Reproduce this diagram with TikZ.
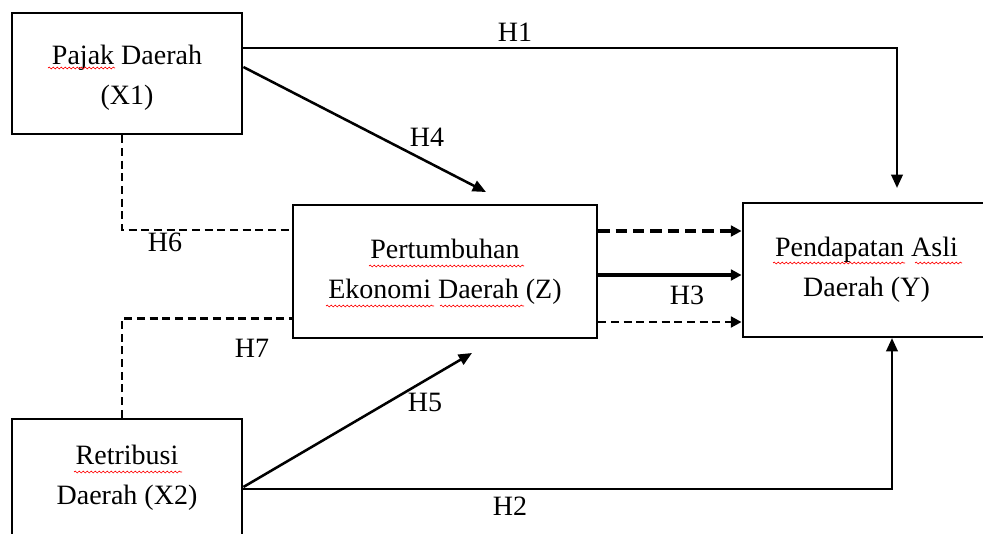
\documentclass[tikz,border=0pt]{standalone}
\usepackage{fontspec}
\setmainfont{Liberation Serif}
\usetikzlibrary{arrows.meta,decorations.pathmorphing,calc}
\begin{document}
\begin{tikzpicture}[x=0.75pt,y=-0.75pt,
  box/.style={draw,line width=2.1pt,inner sep=0pt,align=center,font=\fontsize{21}{30}\selectfont},
  lbl/.style={inner sep=0pt,font=\fontsize{21}{25}\selectfont},
  conn/.style={line width=1.9pt,-{Triangle[length=10pt,width=8.5pt]}},
  conntip/.style={-{Triangle[length=8pt,width=8pt]}},
  mdash/.style={line width=1.6pt,dash pattern=on 6pt off 3.5pt},
  spell/.style={red,line width=0.5pt,decorate,decoration={snake,segment length=3pt,amplitude=0.7pt}}]
\useasboundingbox (0,0) rectangle (983,533);
% boxes
\node[box,minimum width=172.5pt,minimum height=90.75pt] (X1) at (127,73.5) {\rule{0pt}{20.5pt}Pajak Daerah\\(X1)};
\node[box,minimum width=228pt,minimum height=99.75pt] (Z) at (445,271.5) {Pertumbuhan\\Ekonomi Daerah (Z)};
\node[box,minimum width=185.25pt,minimum height=100.5pt] (Y) at (866.5,270) {Pendapatan Asli\\Daerah (Y)};
\node[box,minimum width=172.5pt,minimum height=88.5pt] (X2) at (127,478) {Retribusi\\Daerah (X2)};
% free ends
\coordinate (h1end) at (897,188);
\coordinate (h4end) at (486,192);
\coordinate (h5end) at (472,353);
\coordinate (h2end) at (892,338);
% H1
\draw[conn] ($(X1.east)+(0,-25.5)$) -| (h1end);
% H4
\draw[conn] ($(X1.east)+(0,-6.5)$) -- (h4end);
% H5
\draw[conn] ($(X2.east)+(0,9)$) -- (h5end);
% H2
\draw[conn] ($(X2.east)+(0,11)$) -| (h2end);
% H6, H7 dashed
\draw[mdash] ($(X1.south)+(-5,0)$) |- ($(Z.west)+(0,-41.5)$);
\draw[mdash] ($(X2.north)+(-5,0)$) |- ($(Z.west)+(0,47)$);
% Z -> Y
\coordinate (a1) at ($(Z.east)+(0,-40.5)$);
\coordinate (a2) at ($(Z.east)+(0,3.5)$);
\coordinate (a3) at ($(Z.east)+(0,50.5)$);
\draw[line width=2.7pt,dash pattern=on 8.5pt off 4.5pt,conntip] (a1) -- (a1 -| Y.west);
\draw[line width=2.7pt,conntip] (a2) -- (a2 -| Y.west);
\draw[line width=2pt,dash pattern=on 6pt off 3.5pt,conntip] (a3) -- (a3 -| Y.west);
% labels
\node[lbl] (l1) at (515,32) {H1};
\node[lbl] (l2) at (510,506) {H2};
\node[lbl] (l3) at (687,295) {H3};
\node[lbl] (l4) at (427,137) {H4};
\node[lbl] (l5) at (425,402) {H5};
\node[lbl] (l6) at (165,242) {H6};
\node[lbl] (l7) at (252,348) {H7};
% spell-check marks
\draw[spell] (48,68) -- (115,68);
\draw[spell] (369,266) -- (524,266);
\draw[spell] (326,306) -- (434,306);
\draw[spell] (440,306) -- (524,306);
\draw[spell] (773,263) -- (905,263);
\draw[spell] (915,263) -- (962,263);
\draw[spell] (74,472) -- (182,472);
\end{tikzpicture}
\end{document}
